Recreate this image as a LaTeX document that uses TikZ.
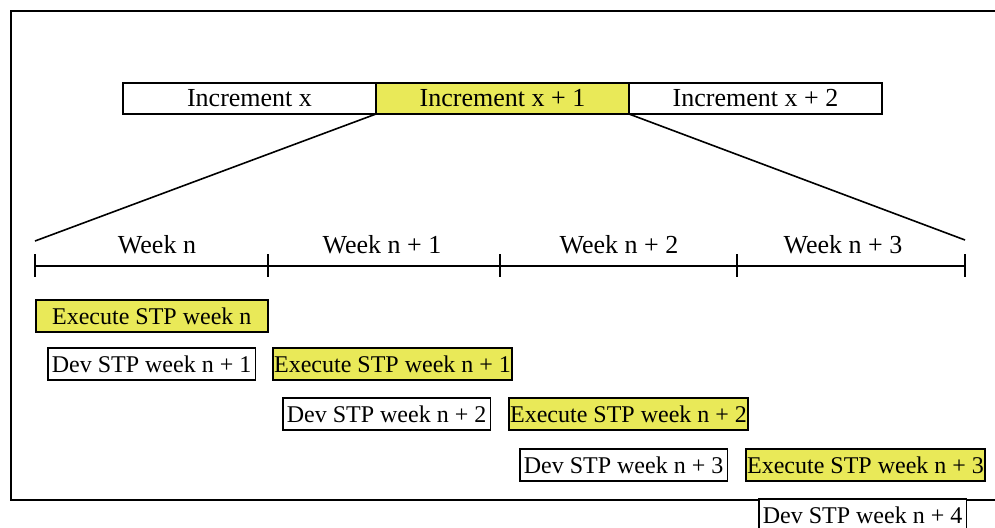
\documentclass[tikz,border=0pt]{standalone}
\usepackage{fontspec}
\setmainfont{Liberation Serif}
\usepackage{xcolor}
\usetikzlibrary{positioning}
\definecolor{stpyellow}{RGB}{233,233,88}

\begin{document}
\begin{tikzpicture}[
    x=0.5pt, y=-0.5pt,
    line width=0.8pt,
    incbox/.style={draw, rectangle, font=\fontsize{13}{15}\selectfont,
                   minimum width=126.5pt, minimum height=15.5pt,
                   inner sep=0pt, outer sep=0pt},
    task/.style={draw, rectangle, font=\fontsize{12}{14}\selectfont,
                 minimum height=16pt, inner xsep=2pt, inner ysep=0pt},
    exec/.style={task, fill=stpyellow, inner xsep=0.6pt},
    dev/.style={task, fill=white},
    weeklabel/.style={font=\fontsize{13}{15}\selectfont, anchor=base}
]
\useasboundingbox (0,0) rectangle (995,527);
\clip (0,0) rectangle (995,527);

% Frame
\draw (11,11) rectangle (1010,500);

% Increment bar
\node[incbox, fill=white] (i1) at (249.5,98.5) {Increment x};
\node[incbox, fill=stpyellow, right=0pt of i1] (i2) {Increment x + 1};
\node[incbox, fill=white, right=0pt of i2] (i3) {Increment x + 2};

% Zoom lines to week scale
\coordinate (w0) at (35,241);
\coordinate (w4) at (965,240);
\draw (i2.south west) -- (w0);
\draw (i2.south east) -- (w4);

% Week timeline
\coordinate (t0) at (35,266);
\coordinate (t4) at (965,266);
\draw (t0) -- (t4);
\foreach \x in {35,268,500,737,965}
    \draw (\x,254) -- (\x,277);

\node[weeklabel] (wk0) at (157,253) {Week n};
\node[weeklabel] (wk1) at (382,253) {Week n + 1};
\node[weeklabel] (wk2) at (619,253) {Week n + 2};
\node[weeklabel] (wk3) at (843,253) {Week n + 3};

% STP tasks
\node[exec, anchor=north west, minimum width=116pt] (e0) at (35,299) {Execute STP week n};
\node[dev, anchor=north west] (d1) at (47,347) {Dev STP week n + 1};
\node[exec, right=8pt of d1] (e1) {Execute STP week n + 1};
\node[dev, anchor=north west] (d2) at (282,397) {Dev STP week n + 2};
\node[exec, right=8.5pt of d2] (e2) {Execute STP week n + 2};
\node[dev, anchor=north west] (d3) at (519,448) {Dev STP week n + 3};
\node[exec, right=8.5pt of d3] (e3) {Execute STP week n + 3};
\node[dev, anchor=north west] (d4) at (758,498) {Dev STP week n + 4};

\end{tikzpicture}
\end{document}
